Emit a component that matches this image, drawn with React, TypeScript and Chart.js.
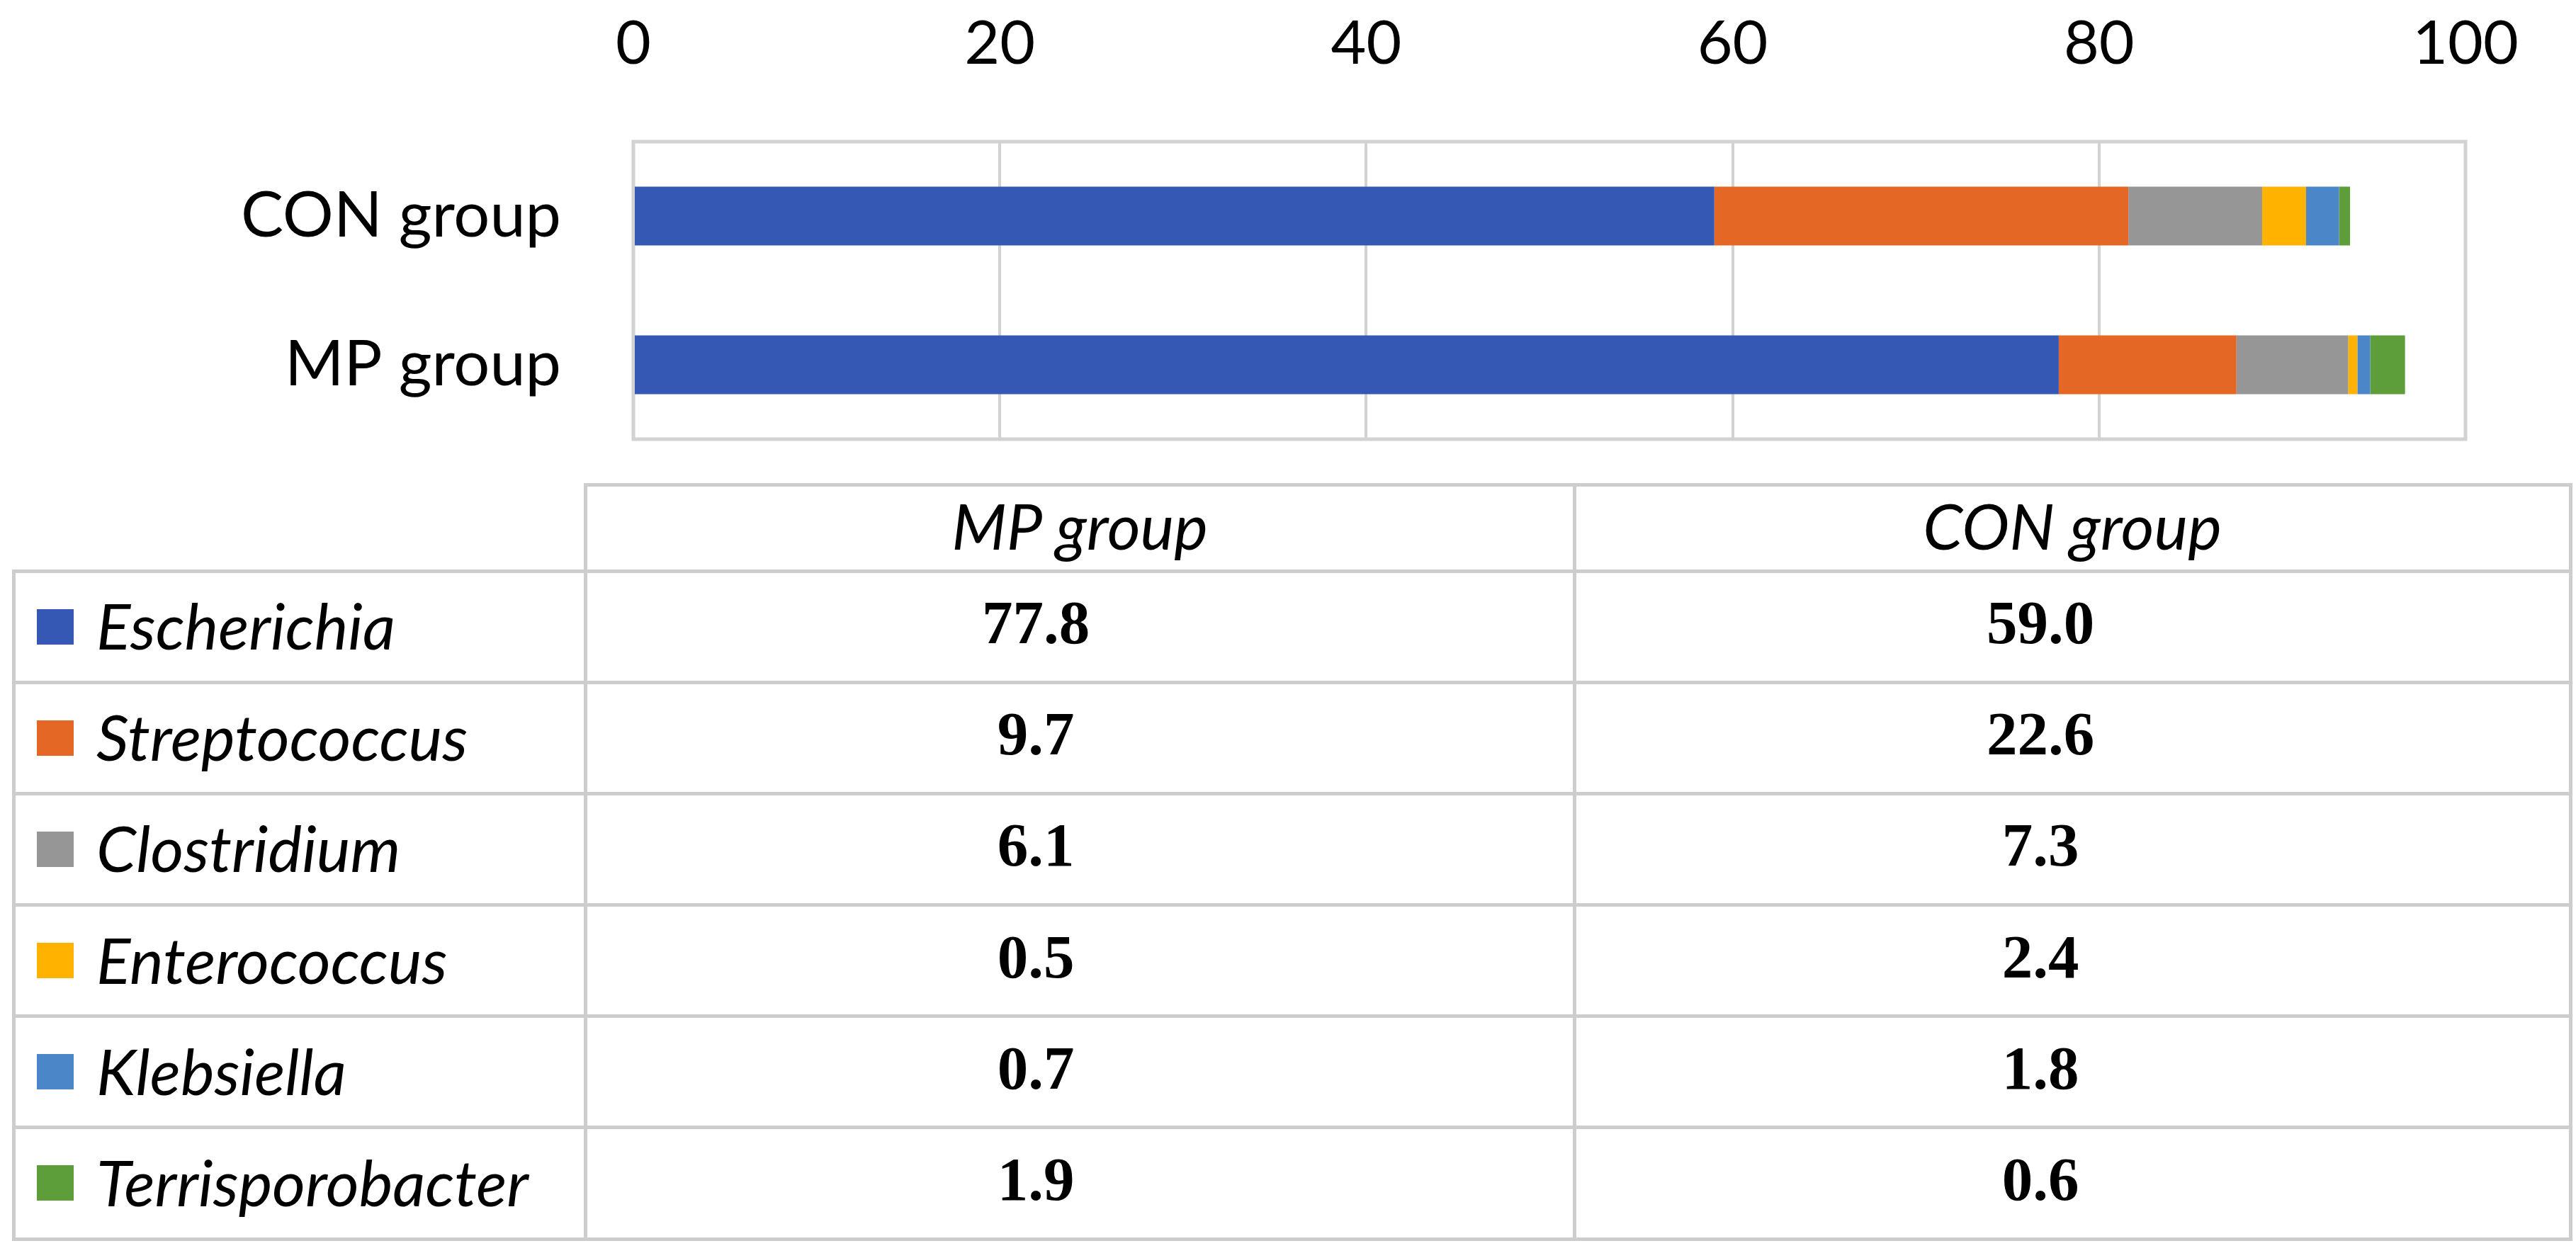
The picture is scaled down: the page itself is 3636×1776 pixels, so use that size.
import React, { useEffect, useRef } from 'react';
import { Chart, registerables } from 'chart.js';

Chart.register(...registerables);

// ---------- data ----------
const groups = ['CON group', 'MP group'];
const genera = ['Escherichia', 'Streptococcus', 'Clostridium', 'Enterococcus', 'Klebsiella', 'Terrisporobacter'];
const mpValues = [77.8, 9.7, 6.1, 0.5, 0.7, 1.9];
const conValues = [59.0, 22.6, 7.3, 2.4, 1.8, 0.6];
const genusColors = ['#3558B5', '#E46726', '#969696', '#FFB300', '#4A86C8', '#5E9E3A'];
const tableColumns = ['MP group', 'CON group'];
const xMin = 0;
const xMax = 100;
const xStep = 20;

// ---------- layout constants ----------
const W = 3636;
const H = 1776;
const CANVAS_H = 700;
const GRID = '#d2d2d2';
const LINE = '#cdcdcd';

const tableLeft = 19;
const col1 = 826;
const col2 = 2222;
const tableRight = 3628;
const headerTop = 684;
const bodyTop = 806;
const bodyBottom = 1749;
const rowH = (bodyBottom - bodyTop) / genera.length;

const frame = {
  id: 'frame',
  beforeDatasetsDraw(chart: any) {
    const { ctx, chartArea } = chart;
    ctx.save();
    ctx.strokeStyle = GRID;
    ctx.lineWidth = 5;
    ctx.strokeRect(chartArea.left, chartArea.top, chartArea.right - chartArea.left, chartArea.bottom - chartArea.top);
    ctx.restore();
  },
};

function HLine({ x1, x2, y }: { x1: number; x2: number; y: number }) {
  return (
    <div style={{ position: 'absolute', left: x1 - 2.5, top: y - 2.5, width: x2 - x1 + 5, height: 5, background: LINE }} />
  );
}
function VLine({ x, y1, y2 }: { x: number; y1: number; y2: number }) {
  return (
    <div style={{ position: 'absolute', left: x - 2.5, top: y1 - 2.5, width: 5, height: y2 - y1 + 5, background: LINE }} />
  );
}

export default function App() {
  const canvasRef = useRef<HTMLCanvasElement | null>(null);

  useEffect(() => {
    let chart: Chart | null = null;
    let cancelled = false;
    const make = () => {
      if (cancelled || !canvasRef.current) return;
      chart = new Chart(canvasRef.current, {
        type: 'bar',
        data: {
          labels: groups,
          datasets: genera.map((g, i) => ({
            label: g,
            data: [conValues[i], mpValues[i]],
            backgroundColor: genusColors[i],
            borderWidth: 0,
            categoryPercentage: 1,
            barPercentage: 0.395,
          })),
        },
        options: {
          indexAxis: 'y',
          responsive: false,
          animation: false,
          layout: { padding: { left: 0, top: 0, right: W - 3480, bottom: CANVAS_H - 620 } },
          plugins: { legend: { display: false }, tooltip: { enabled: false } },
          scales: {
            x: {
              type: 'linear',
              position: 'top',
              stacked: true,
              min: xMin,
              max: xMax,
              ticks: {
                stepSize: xStep,
                padding: 0,
                color: '#000',
                font: { family: 'Lato', size: 86 },
              },
              grid: { color: GRID, lineWidth: 4, drawTicks: true, tickLength: 86, tickColor: 'rgba(0,0,0,0)' },
              border: { display: false },
              afterFit: (s: any) => {
                s.height = 200;
              },
            },
            y: {
              type: 'category',
              stacked: true,
              ticks: {
                padding: 0,
                color: '#000',
                font: { family: 'Lato', size: 90 },
              },
              grid: { display: false, drawTicks: true, tickLength: 102 },
              border: { display: false },
              afterFit: (s: any) => {
                s.width = 894;
              },
            },
          },
        },
        plugins: [frame],
      } as any);
    };
    const fontsReady = (document as any).fonts
      ? Promise.all([
          (document as any).fonts.load('86px Lato'),
          (document as any).fonts.load('italic 90px Lato'),
        ]).catch(() => null)
      : Promise.resolve(null);
    fontsReady.then(make);
    return () => {
      cancelled = true;
      if (chart) chart.destroy();
    };
  }, []);

  const italic: React.CSSProperties = { fontFamily: 'Lato, "Noto Sans", sans-serif', fontStyle: 'italic', fontSize: 90, color: '#000' };
  const valueFont: React.CSSProperties = { fontFamily: '"Liberation Serif", "DejaVu Serif", serif', fontWeight: 700, fontSize: 87, color: '#000' };

  const mpValueX = 1462;
  const conValueX = 2880;

  return (
    <div style={{ position: 'fixed', left: 0, top: 0, width: W, height: H, background: '#fff', overflow: 'hidden' }}>
      <canvas
        ref={canvasRef}
        width={W}
        height={CANVAS_H}
        style={{ position: 'absolute', left: 0, top: 0, width: W, height: CANVAS_H }}
      />
      {/* table grid */}
      <HLine x1={col1} x2={tableRight} y={headerTop} />
      {Array.from({ length: genera.length + 1 }, (_, i) => (
        <HLine key={'h' + i} x1={tableLeft} x2={tableRight} y={bodyTop + i * rowH} />
      ))}
      <VLine x={tableLeft} y1={bodyTop} y2={bodyBottom} />
      <VLine x={col1} y1={headerTop} y2={bodyBottom} />
      <VLine x={col2} y1={headerTop} y2={bodyBottom} />
      <VLine x={tableRight} y1={headerTop} y2={bodyBottom} />

      {/* header */}
      {tableColumns.map((c, i) => {
        const l = i === 0 ? col1 : col2;
        const r = i === 0 ? col2 : tableRight;
        return (
          <div
            key={c}
            style={{ position: 'absolute', left: l, top: headerTop, width: r - l, height: bodyTop - headerTop, lineHeight: `${bodyTop - headerTop - 8}px`, textAlign: 'center', whiteSpace: 'nowrap', ...italic }}
          >
            {c}
          </div>
        );
      })}

      {/* rows */}
      {genera.map((g, i) => {
        const top = bodyTop + i * rowH;
        return (
          <React.Fragment key={g}>
            <div style={{ position: 'absolute', left: 52, top: top + rowH / 2 - 25, width: 52, height: 50, background: genusColors[i] }} />
            <div style={{ position: 'absolute', left: 136, top, height: rowH, lineHeight: `${rowH - 4}px`, whiteSpace: 'nowrap', ...italic }}>{g}</div>
            <div style={{ position: 'absolute', left: mpValueX - 200, top: top - 6, width: 400, height: rowH, lineHeight: `${rowH}px`, textAlign: 'center', ...valueFont }}>
              {mpValues[i].toFixed(1)}
            </div>
            <div style={{ position: 'absolute', left: conValueX - 200, top: top - 6, width: 400, height: rowH, lineHeight: `${rowH}px`, textAlign: 'center', ...valueFont }}>
              {conValues[i].toFixed(1)}
            </div>
          </React.Fragment>
        );
      })}
    </div>
  );
}
